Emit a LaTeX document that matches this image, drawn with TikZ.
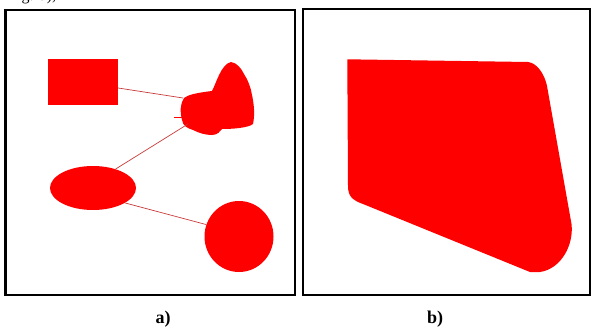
\documentclass[tikz,border=0pt]{standalone}
\usepackage{fontspec}
\setmainfont{Liberation Serif}
\usetikzlibrary{shapes.geometric}
\definecolor{shapered}{HTML}{FE0000}
\definecolor{linkred}{HTML}{C83A3A}
\tikzset{
  frame/.style={draw=black},
  blobfill/.style={fill=shapered, draw=none},
  link/.style={draw=linkred, line width=0.7pt},
  panellabel/.style={font=\fontsize{18}{21}\selectfont\bfseries, inner sep=0pt}
}
\begin{document}
\begin{tikzpicture}[x=1pt,y=-1pt]
\useasboundingbox (0,0) rectangle (591,329);
\begin{scope}
\clip (0,0) rectangle (591,329);
\node[anchor=base west, inner sep=0pt, font=\fontsize{16}{19}\selectfont] (cap) at (8,1) {Fig. 3),};
\end{scope}
% frames
\draw[frame, line width=2.2pt] (5.5,10) rectangle (295,295);
\draw[frame, line width=1.8pt] (303,9) rectangle (590,295);
% panel a shapes
\node[blobfill, rectangle, minimum width=70pt, minimum height=46pt, inner sep=0pt] (rect) at (83,82) {};
\node[blobfill, ellipse, minimum width=86pt, minimum height=44pt, inner sep=0pt] (ell) at (93,188) {};
\node[blobfill, ellipse, minimum width=69pt, minimum height=71pt, inner sep=0pt] (circ) at (239,236.5) {};
% blob
\fill[shapered] (231,62) .. controls (237,63) and (241,68) .. (244,74)
  .. controls (248,80) and (251,88) .. (252,95)
  .. controls (254,104) and (255,115) .. (253,124)
  .. controls (248,128) and (232,129) .. (222,129)
  .. controls (220,131) and (218,135) .. (212,135)
  .. controls (205,135) and (199,133) .. (193,130)
  .. controls (187,128) and (183,126) .. (182,120)
  .. controls (180,112) and (180,104) .. (184,98)
  .. controls (188,95) and (195,93) .. (212,91)
  .. controls (216,84) and (221,64) .. (231,62) -- cycle;
\coordinate (blobA) at (183,98);
\coordinate (blobB) at (188,124);
\coordinate (stubL) at (174,117);
\coordinate (stubR) at (183,117);
% connectors
\draw[link] (rect.east |- 0,88) -- (blobA);
\draw[link] (ell.40) -- (blobB);
\draw[link] (ell.-25) -- (circ.160);
\draw[draw=shapered, line width=1pt] (stubL) -- (stubR);
% panel b shape
\fill[shapered] (347.3,59.3) -- (528,62)
  .. controls (538,63) and (545,76) .. (547,86)
  -- (571.5,224)
  .. controls (574,245) and (561,269) .. (540,272)
  -- (530,272)
  -- (363,204)
  .. controls (352,200) and (348,196) .. (348,186)
  -- cycle;
% labels
\node[panellabel] (la) at (163,319) {a)};
\node[panellabel] (lb) at (435,319) {b)};
\end{tikzpicture}
\end{document}
